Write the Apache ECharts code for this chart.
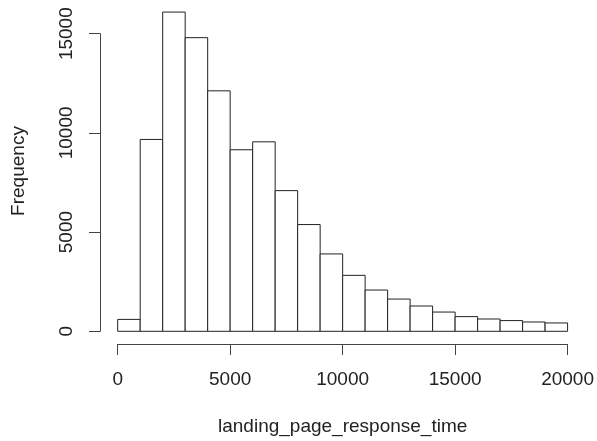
<!DOCTYPE html>
<html>
<head>
<meta charset="utf-8">
<script src="https://cdn.jsdelivr.net/npm/echarts@6/dist/echarts.min.js"></script>
<style>
html,body{margin:0;padding:0;background:#fff;}
#chart{width:597px;height:441px;}
</style>
</head>
<body>
<div id="chart"></div>
<script>
// Histogram bin edges (left and right) and counts
const binStart = [0,1000,2000,3000,4000,5000,6000,7000,8000,9000,10000,11000,12000,13000,14000,15000,16000,17000,18000,19000];
const binEnd   = [1000,2000,3000,4000,5000,6000,7000,8000,9000,10000,11000,12000,13000,14000,15000,16000,17000,18000,19000,20000];
const counts   = [600,9670,16090,14800,12120,9150,9550,7090,5380,3900,2820,2080,1625,1275,970,740,620,540,470,420];
const xTicks = [0,5000,10000,15000,20000];
const yTicks = [0,5000,10000,15000];
const xTitle = 'landing_page_response_time';
const yTitle = 'Frequency';

const font = '"Liberation Sans", Arial, Helvetica, sans-serif';
const fs = 19;
const data = binStart.map((s, i) => [s, binEnd[i], counts[i]]);

const chart = echarts.init(document.getElementById('chart'), null, {renderer: 'canvas'});
chart.setOption({
  animation: false,
  backgroundColor: '#fff',
  grid: {left: 117.7, right: 27.7, top: 33.7, bottom: 109, containLabel: false},
  xAxis: {
    type: 'value', min: xTicks[0], max: xTicks[xTicks.length-1], interval: 5000,
    offset: 12.7,
    axisLine: {show: true, onZero: false, lineStyle: {color: '#444', width: 1}},
    axisTick: {show: true, length: 11, lineStyle: {color: '#444', width: 1}},
    axisLabel: {show: true, margin: 26, color: '#222', fontSize: fs, fontFamily: font,
      formatter: v => String(v)},
    splitLine: {show: false},
    name: xTitle, nameLocation: 'middle', nameGap: 73,
    nameTextStyle: {color: '#222', fontSize: fs, fontFamily: font}
  },
  yAxis: {
    type: 'value', min: yTicks[0], max: yTicks[yTicks.length-1], interval: 5000,
    offset: 17.7,
    axisLine: {show: true, onZero: false, lineStyle: {color: '#444', width: 1}},
    axisTick: {show: true, length: 11, lineStyle: {color: '#444', width: 1}},
    axisLabel: {show: true, rotate: 90, margin: 24, color: '#222', fontSize: fs, fontFamily: font,
      formatter: v => String(v)},
    splitLine: {show: false}
  },
  graphic: [{
    type: 'text', x: 19, y: 171, rotation: Math.PI/2,
    style: {text: yTitle, fill: '#222', fontSize: fs, fontFamily: font, align: 'center', verticalAlign: 'middle'}
  }],
  series: [{
    type: 'custom',
    clip: false,
    data: data,
    renderItem: function (params, api) {
      const p0 = api.coord([api.value(0), api.value(2)]);
      const p1 = api.coord([api.value(1), 0]);
      return {
        type: 'rect',
        shape: {x: p0[0], y: p0[1], width: p1[0]-p0[0], height: p1[1]-p0[1]},
        style: {fill: '#fff', stroke: '#222', lineWidth: 1}
      };
    }
  }]
});
</script>
</body>
</html>
